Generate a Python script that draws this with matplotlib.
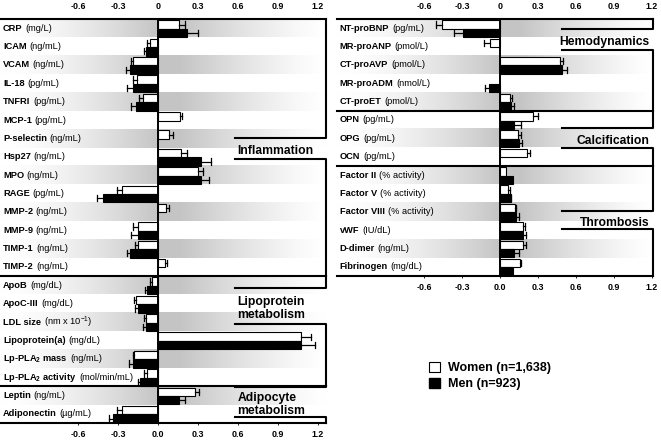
import matplotlib
matplotlib.use('Agg')
import matplotlib.pyplot as plt
from matplotlib.patches import Patch
import numpy as np

plt.rcParams['font.family'] = ['Liberation Sans', 'DejaVu Sans']
plt.rcParams['mathtext.fontset'] = 'custom'
plt.rcParams['mathtext.rm'] = 'Liberation Sans'
plt.rcParams['mathtext.bf'] = 'Liberation Sans:bold'

# ---- left panel data ----
left_names = ['CRP', 'ICAM', 'VCAM', 'IL-18', 'TNFRI', 'MCP-1', 'P-selectin', 'Hsp27', 'MPO',
              'RAGE', 'MMP-2', 'MMP-9', 'TIMP-1', 'TIMP-2',
              'ApoB', 'ApoC-III', 'LDL size', 'Lipoprotein(a)', r'Lp-PLA$_\mathbf{2}$ mass',
              r'Lp-PLA$_\mathbf{2}$ activity',
              'Leptin', 'Adiponectin']
left_units = ['(mg/L)', '(ng/mL)', '(ng/mL)', '(pg/mL)', '(pg/mL)', '(pg/mL)', '(ng/mL)', '(ng/mL)',
              '(ng/mL)', '(pg/mL)', '(ng/mL)', '(ng/mL)', '(ng/mL)', '(ng/mL)',
              '(mg/dL)', '(mg/dL)', r'(nm x 10$^{-1}$)', '(mg/dL)', '(ng/mL)', '(mol/min/mL)',
              '(ng/mL)', '(µg/mL)']
left_women = [0.16, -0.06, -0.185, -0.16, -0.11, 0.165, 0.08, 0.17, 0.30, -0.27, 0.06, -0.15, -0.15, 0.05,
              -0.045, -0.165, -0.09, 1.07, -0.18, -0.08, 0.28, -0.27]
left_women_err = [0.04, 0.025, 0.02, 0.03, 0.035, 0.015, 0.035, 0.05, 0.035, 0.035, 0.025, 0.04, 0.02, 0.02,
                  0.015, 0.015, 0.015, 0.08, 0.01, 0.025, 0.03, 0.04]
left_men = [0.22, -0.09, -0.21, -0.185, -0.165, np.nan, np.nan, 0.32, 0.32, -0.41, np.nan, -0.15, -0.21, np.nan,
            -0.08, -0.15, -0.09, 1.07, -0.19, -0.135, 0.16, -0.335]
left_men_err = [0.08, 0.015, 0.03, 0.045, 0.035, 0, 0, 0.08, 0.06, 0.045, 0, 0.05, 0.025, 0,
                0.02, 0.02, 0.02, 0.11, 0.025, 0.015, 0.04, 0.035]
left_groups = [('Inflammation', 0, 14), ('Lipoprotein\nmetabolism', 14, 20), ('Adipocyte\nmetabolism', 20, 22)]

# ---- right panel data ----
right_names = ['NT-proBNP', 'MR-proANP', 'CT-proAVP', 'MR-proADM', 'CT-proET', 'OPN', 'OPG', 'OCN',
               'Factor II', 'Factor V', 'Factor VIII', 'vWF', 'D-dimer', 'Fibrinogen']
right_units = ['(pg/mL)', '(pmol/L)', '(pmol/L)', '(nmol/L)', '(pmol/L)', '(pg/mL)', '(pg/mL)', '(pg/mL)',
               '(% activity)', '(% activity)', '(% activity)', '(IU/dL)', '(ng/mL)', '(mg/dL)']
right_women = [-0.46, -0.08, 0.47, np.nan, 0.08, 0.26, 0.145, 0.21, 0.05, 0.06, 0.12, 0.18, 0.18, 0.16]
right_women_err = [0.045, 0.045, 0.03, 0, 0.015, 0.04, 0.02, 0.025, 0, 0.02, 0.005, 0.02, 0.025, 0.005]
right_men = [-0.295, np.nan, 0.49, -0.085, 0.09, 0.11, 0.15, np.nan, 0.10, 0.085, 0.13, 0.185, 0.11, 0.10]
right_men_err = [0.065, 0, 0.04, 0.035, 0.02, 0.055, 0.02, 0, 0, 0.005, 0.02, 0.02, 0.04, 0]
right_groups = [('Hemodynamics', 0, 5), ('Calcification', 5, 8), ('Thrombosis', 8, 14)]

ticks = [-0.6, -0.3, 0, 0.3, 0.6, 0.9, 1.2]
top_ticklabels = ['-0.6', '-0.3', '0', '0.3', '0.6', '0.9', '1.2']
bottom_ticklabels = ['-0.6', '-0.3', '0.0', '0.3', '0.6', '0.9', '1.2']

W, H = 661, 442
fig = plt.figure(figsize=(W / 100, H / 100), dpi=100)


def px_axes(x0, x1, y0, y1):
    return fig.add_axes([x0 / W, 1 - y1 / H, (x1 - x0) / W, (y1 - y0) / H])


def row_gradient(xlim):
    # white at both edges, grey at zero
    xs = np.linspace(xlim[0], xlim[1], 600)
    tl = np.clip((xs - xlim[0]) / (0 - xlim[0]), 0, 1)
    tr = np.clip((xlim[1] - xs) / xlim[1], 0, 1)
    t = np.where(xs < 0, tl ** 1.6, np.clip(tr * 1.15, 0, 1) ** 1.3)
    g = 1 - 0.23 * t
    return np.dstack([np.tile(g, (2, 1))] * 3)


def draw_panel(ax, names, units, women, women_err, men, men_err, groups, xlim,
               bracket_y, label_x, label_ha):
    n = len(names)
    img = row_gradient(xlim)
    for i in range(0, n, 2):
        ax.imshow(img, aspect='auto', extent=(xlim[0], xlim[1], i + 1, i),
                  interpolation='bilinear', zorder=0)
    ax.set_xlim(*xlim)
    ax.set_ylim(n, 0)
    for s in ax.spines.values():
        s.set_visible(False)

    y = np.arange(n)
    h = 0.46
    ax.barh(y + 0.3, women, height=h, color='white', edgecolor='black', linewidth=0.8, zorder=2)
    ax.barh(y + 0.76, men, height=h, color='black', edgecolor='black', linewidth=0.8, zorder=2)
    for i in range(n):
        for v, e, yy in ((women[i], women_err[i], y[i] + 0.3), (men[i], men_err[i], y[i] + 0.76)):
            if np.isnan(v) or e <= 0:
                continue
            end = v + np.sign(v) * e
            ax.plot([v, end], [yy, yy], color='black', lw=0.9, zorder=3)
            ax.plot([end, end], [yy - 0.17, yy + 0.17], color='black', lw=0.9, zorder=3)

    ax.axvline(0, color='black', lw=1.4, zorder=4)

    # row labels: bold name + regular unit
    for i in range(n):
        t = ax.text(xlim[0] + 0.009 * (xlim[1] - xlim[0]), i + 0.5, names[i], fontsize=6.7,
                    fontweight='bold', va='center', ha='left', zorder=5)
        ax.annotate(units[i], xy=(1, 0.5), xycoords=t, xytext=(2, 0), textcoords='offset points',
                    fontsize=6.7, va='center', ha='left', zorder=5)

    # frame, separators and group brackets
    lw = 1.5
    xr = xlim[1]
    ax.plot(xlim, [0, 0], color='black', lw=lw, clip_on=False, zorder=6)
    for (name, a, b), (r1, r2) in zip(groups, bracket_y):
        ax.plot([xlim[0], xr], [b, b], color='black', lw=lw, clip_on=False, zorder=6)
        ax.plot([xr, xr, label_x[0]], [a, r1, r1], color='black', lw=lw, clip_on=False, zorder=6)
        ax.plot([label_x[0], xr, xr], [r2, r2, b], color='black', lw=lw, clip_on=False, zorder=6)
        ax.text(label_x[1], (r1 + r2) / 2 + 0.14, name, fontsize=8.7, fontweight='bold', ha=label_ha,
                va='center', linespacing=1.1, zorder=6)

    ax.set_xticks(ticks)
    ax.set_yticks([])
    ax.set_xticklabels(bottom_ticklabels, fontweight='bold')
    ax.tick_params(axis='x', top=False, labeltop=False, bottom=True, labelbottom=True,
                   length=1.5, width=0.6, pad=3.5, labelsize=6.4)
    sec = ax.secondary_xaxis('top')
    sec.set_xticks(ticks)
    sec.set_xticklabels(top_ticklabels, fontweight='bold', fontsize=6.4)
    sec.tick_params(length=0, pad=5.5)
    sec.spines['top'].set_visible(False)


ax1 = px_axes(0, 326, 19, 423)
draw_panel(ax1, left_names, left_units, left_women, left_women_err, left_men, left_men_err,
           left_groups, (-1.185, 1.26),
           [(6.48, 7.62), (14.65, 16.6), (20.05, 21.66)],
           (0.58, 0.595), 'left')

ax2 = px_axes(337, 653, 19, 276)
draw_panel(ax2, right_names, right_units, right_women, right_women_err, right_men, right_men_err,
           right_groups, (-1.287, 1.208),
           [(0.54, 1.69), (5.94, 7.03), (10.46, 11.44)],
           (0.49, 1.18), 'right')

fig.legend(handles=[Patch(facecolor='white', edgecolor='black', lw=0.8),
                    Patch(facecolor='black', edgecolor='black')],
           labels=['Women (n=1,638)', 'Men (n=923)'],
           loc='upper left', bbox_to_anchor=(424 / W, 1 - 357 / H), frameon=False,
           prop={'weight': 'bold', 'size': 9}, handlelength=0.9, handleheight=0.9,
           handletextpad=0.6, labelspacing=0.25, borderaxespad=0)

fig.savefig('out.png', dpi=100)
